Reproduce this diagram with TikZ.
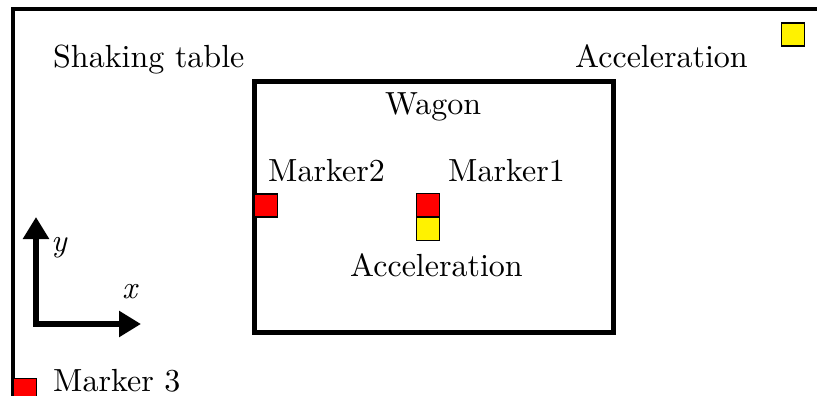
\documentclass[tikz,border=0pt]{standalone}
\usepackage{fontspec}
\setmainfont{lmroman10-regular}[Extension=.otf]
\newfontfamily\itfont{lmroman10-italic}[Extension=.otf]
\usetikzlibrary{arrows.meta}
\begin{document}
\begin{tikzpicture}[x=1pt,y=-1pt,
  lbl/.style={anchor=base west,inner sep=0pt,font=\fontsize{32}{38}\selectfont},
  axlbl/.style={anchor=base west,inner sep=0pt,font=\fontsize{32}{38}\itfont},
  redsq/.style={draw=black,line width=1.6pt,fill=red,minimum size=23pt,inner sep=0pt,anchor=north west},
  yelsq/.style={draw=black,line width=1.6pt,fill=yellow,minimum size=23pt,inner sep=0pt,anchor=north west},
  frame/.style={line width=4pt},
  wagonbox/.style={draw,line width=5pt},
  axis/.style={line width=6.5pt,line join=miter}]
\clip (0,0) rectangle (817,396);
\fill[white] (0,0) rectangle (817,396);
% outer frame (shaking table)
\coordinate (fb) at (13,400);
\coordinate (ftl) at (13,9.5);
\coordinate (ftr) at (820,9.5);
\draw[frame] (fb) -- (ftl) -- (ftr);
% wagon
\node[wagonbox,minimum width=359pt,minimum height=251pt,inner sep=0pt,anchor=north west] (wagon) at (252,79) {};
% texts
\node[lbl] (shk) at (53,68) {Shaking table};
\node[lbl] (acc1) at (575,68) {Acceleration};
\node[lbl] (wag) at (385,114) {Wagon};
\node[lbl] (m2) at (268,181) {Marker2};
\node[lbl] (m1) at (448,181) {Marker1};
\node[lbl] (acc2) at (350,276) {Acceleration};
\node[lbl] (m3) at (53,391) {Marker 3};
% squares
\node[yelsq] (ytr) at (780.5,22.5) {};
\node[redsq] (r2) at (253.5,193) {};
\node[redsq] (r1) at (415.5,192.5) {};
\node[yelsq] (y1) at (415.5,216.5) {};
\node[redsq] (r3) at (12.5,377.5) {};
% axes
\coordinate (ay) at (36,217);
\coordinate (ao) at (36,324);
\coordinate (ax) at (141,324);
\draw[axis,{Triangle[length=22pt,width=25pt]}-{Triangle[length=22pt,width=25pt]}] (ay) -- (ao) -- (ax);
\node[axlbl] (ylab) at (51,251) {y};
\node[axlbl] (xlab) at (122,298) {x};
\end{tikzpicture}
\end{document}
